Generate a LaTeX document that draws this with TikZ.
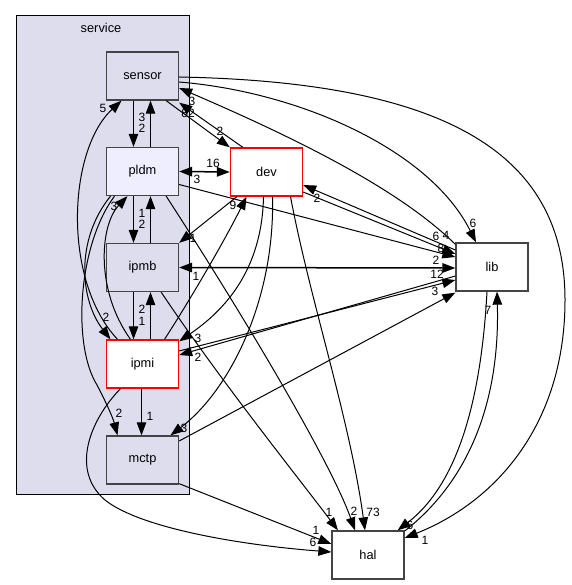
\documentclass[tikz,border=0pt]{standalone}
\usepackage{fontspec}
\setmainfont{Liberation Sans}
\usetikzlibrary{arrows.meta,calc}
\definecolor{clusterfill}{HTML}{DDDDEE}
\definecolor{focusfill}{HTML}{EEEEFF}
\definecolor{boxgray}{HTML}{444444}
\definecolor{cyclered}{HTML}{FF0000}
\begin{document}
\begin{tikzpicture}[x=1pt,y=-1pt,
  box/.style={draw=boxgray, line width=1.3pt, minimum width=72pt, minimum height=48pt, inner sep=0pt, font=\fontsize{12.8}{15}\selectfont},
  redbox/.style={box, draw=cyclered, fill=white},
  whitebox/.style={box, fill=white},
  dep/.style={line width=1pt, -{Triangle[length=13pt,width=9.5pt]}},
  bidep/.style={line width=1.5pt, {Triangle[length=13pt,width=9.5pt]}-{Triangle[length=13pt,width=9.5pt]}},
  lbl/.style={font=\fontsize{12}{14}\selectfont, inner sep=0pt}]
\useasboundingbox (0,0) rectangle (571,585);
% cluster
\node[draw=black, fill=clusterfill, line width=1pt, minimum width=173pt, minimum height=479pt, anchor=north west, inner sep=0pt] (service) at (16,15) {};
\node[font=\fontsize{12.8}{15}\selectfont, inner sep=0pt] (servicelbl) at (101,28) {service};
% nodes
\node[box] (sensor) at (142.5,76) {sensor};
\node[box, fill=focusfill] (pldm) at (142.5,171.5) {pldm};
\node[box] (ipmb) at (142.5,267.5) {ipmb};
\node[redbox] (ipmi) at (142.5,364) {ipmi};
\node[box] (mctp) at (142.5,460) {mctp};
\node[redbox] (dev) at (266.5,172) {dev};
\node[whitebox] (lib) at (492,267) {lib};
\node[whitebox] (hal) at (368,555) {hal};

% vertical pairs inside cluster
\draw[dep] ($(sensor.south)+(-9,0)$) -- ($(pldm.north)+(-9,0)$);
\draw[dep] ($(pldm.north)+(8,0)$) -- ($(sensor.south)+(8,0)$);
\draw[dep] ($(pldm.south)+(-9,0)$) -- ($(ipmb.north)+(-9,0)$);
\draw[dep] ($(ipmb.north)+(8,0)$) -- ($(pldm.south)+(8,0)$);
\draw[dep] ($(ipmb.south)+(-9,0)$) -- ($(ipmi.north)+(-9,0)$);
\draw[dep] ($(ipmi.north)+(8,0)$) -- ($(ipmb.south)+(8,0)$);
\draw[dep] ($(ipmi.south)+(-1,0)$) -- ($(mctp.north)+(-1,0)$);
\node[lbl] (l1) at (142,117) {3};
\node[lbl] (l2) at (142,128) {2};
\node[lbl] (l3) at (142,213) {1};
\node[lbl] (l4) at (142,224) {2};
\node[lbl] (l5) at (142,309) {2};
\node[lbl] (l6) at (142,321) {1};
\node[lbl] (l7) at (150,416) {1};

% left curves
\draw[dep] ($(ipmi.north)+(-25,0)$) .. controls (62,280) and (68,150) .. ($(sensor.south)+(-21,0)$);
\node[lbl] (l8) at (103,108) {5};
\draw[dep] ($(pldm.south)+(-32,0)$) .. controls (75,240) and (80,300) .. ($(ipmi.north)+(-32,0)$);
\node[lbl] (l9) at (106,317) {2};
\draw[dep] ($(pldm.south)+(-28,0)$) .. controls (78,245) and (72,345) .. (97,385) .. controls (106,402) and (113,418) .. ($(mctp.north)+(-25,0)$);
\node[lbl] (l10) at (119,413) {2};
\draw[dep] ($(ipmi.north)+(-12,0)$) .. controls (95,290) and (100,225) .. ($(pldm.south)+(-15,0)$);
\node[lbl] (l11) at (114,206) {3};
\draw[dep] ($(ipmi.south)+(-22,0)$) .. controls (90,420) and (70,470) .. (105,500) .. controls (140,528) and (240,545) .. ($(hal.west)+(0,-3)$);
\node[lbl] (l12) at (313,542) {6};
\draw[dep] ($(mctp.south east)+(0,-1)$) -- ($(hal.west)+(0,-11)$);
\node[lbl] (l13) at (316,530) {1};

% dev related
\draw[bidep] (pldm.east) -- (dev.west);
\node[lbl] (l14) at (213,163) {16};
\node[lbl] (l15) at (197,179) {3};
\draw[dep] ($(sensor.south east)+(-13,0)$) -- (dev.north west);
\node[lbl] (l16) at (220,131) {2};
\draw[dep] ($(dev.north west)+(13,0)$) -- ($(sensor.south east)+(0,2)$);
\node[lbl] (l17) at (188,113) {82};
\node[lbl] (l18) at (192,101) {3};
\draw[dep] ($(dev.south)+(6,0)$) .. controls (275,300) and (230,390) .. ($(mctp.north)+(28,0)$);
\node[lbl] (l19) at (184,428) {3};
\draw[dep] ($(dev.south)+(-3,0)$) .. controls (262,270) and (225,310) .. ($(ipmi.north east)+(0,2)$);
\node[lbl] (l20) at (198,338) {3};
\draw[dep] ($(ipmi.north)+(22,0)$) .. controls (190,300) and (225,240) .. ($(dev.south)+(-20,0)$);
\node[lbl] (l21) at (233,205) {9};
\draw[dep] ($(dev.south west)+(7,0)$) -- (ipmb.north east);
\node[lbl] (l22) at (193,238) {1};
\draw[dep] ($(dev.south)+(24,0)$) .. controls (310,300) and (350,420) .. ($(hal.north)+(-3,0)$);
\node[lbl] (l23) at (373,512) {73};

% lib related
\draw[bidep] (ipmb.east) -- ($(lib.west)+(0,1)$);
\node[lbl] (l24) at (196,276) {1};
\node[lbl] (l25) at (437,274) {12};
\draw[dep] ($(lib.north west)+(0,2)$) .. controls (400,190) and (300,140) .. ($(sensor.east)+(0,12)$);
\draw[dep] ($(sensor.east)+(0,6)$) .. controls (300,92) and (430,150) .. ($(lib.north)+(-16,0)$);
\node[lbl] (l26) at (473,223) {6};
\draw[dep] ($(sensor.east)+(0,1)$) .. controls (440,82) and (565,150) .. (565,300) .. controls (565,420) and (500,500) .. ($(hal.east)+(0,-17)$);
\node[lbl] (l27) at (425,540) {1};
\draw[dep] ($(lib.west)+(0,-17)$) -- ($(dev.east)+(0,13)$);
\node[lbl] (l28) at (317,198) {2};
\draw[dep] ($(dev.east)+(0,20)$) -- ($(lib.west)+(0,-13)$);
\draw[dep] ($(pldm.east)+(0,13)$) -- ($(lib.west)+(0,-10)$);
\node[lbl] (l29) at (436,236) {6};
\node[lbl] (l30) at (446,235) {4};
\node[lbl] (l31) at (441,248) {8};
\node[lbl] (l32) at (436,260) {2};
\draw[dep] ($(ipmi.east)+(0,-13)$) -- ($(lib.west)+(0,13)$);
\draw[dep] ($(lib.west)+(0,9)$) -- ($(ipmi.east)+(0,-9)$);
\node[lbl] (l33) at (198,357) {2};
\draw[dep] ($(mctp.east)+(0,-19)$) -- ($(lib.south west)+(0,1)$);
\node[lbl] (l34) at (435,291) {3};
\draw[dep] ($(lib.south)+(-5,0)$) .. controls (480,420) and (450,490) .. ($(hal.north east)+(-7,0)$);
\node[lbl] (l35) at (410,525) {6};
\draw[dep] ($(hal.east)+(0,-24)$) .. controls (470,480) and (500,400) .. ($(lib.south)+(5,0)$);
\node[lbl] (l36) at (488,310) {7};
\draw[dep] ($(ipmb.south east)+(-18,0)$) .. controls (220,380) and (300,480) .. ($(hal.north)+(-30,0)$);
\node[lbl] (l37) at (329,512) {1};
\draw[dep] ($(pldm.south east)+(-13,0)$) .. controls (240,310) and (330,460) .. ($(hal.north)+(-13,0)$);
\node[lbl] (l38) at (354,511) {2};
\end{tikzpicture}
\end{document}
